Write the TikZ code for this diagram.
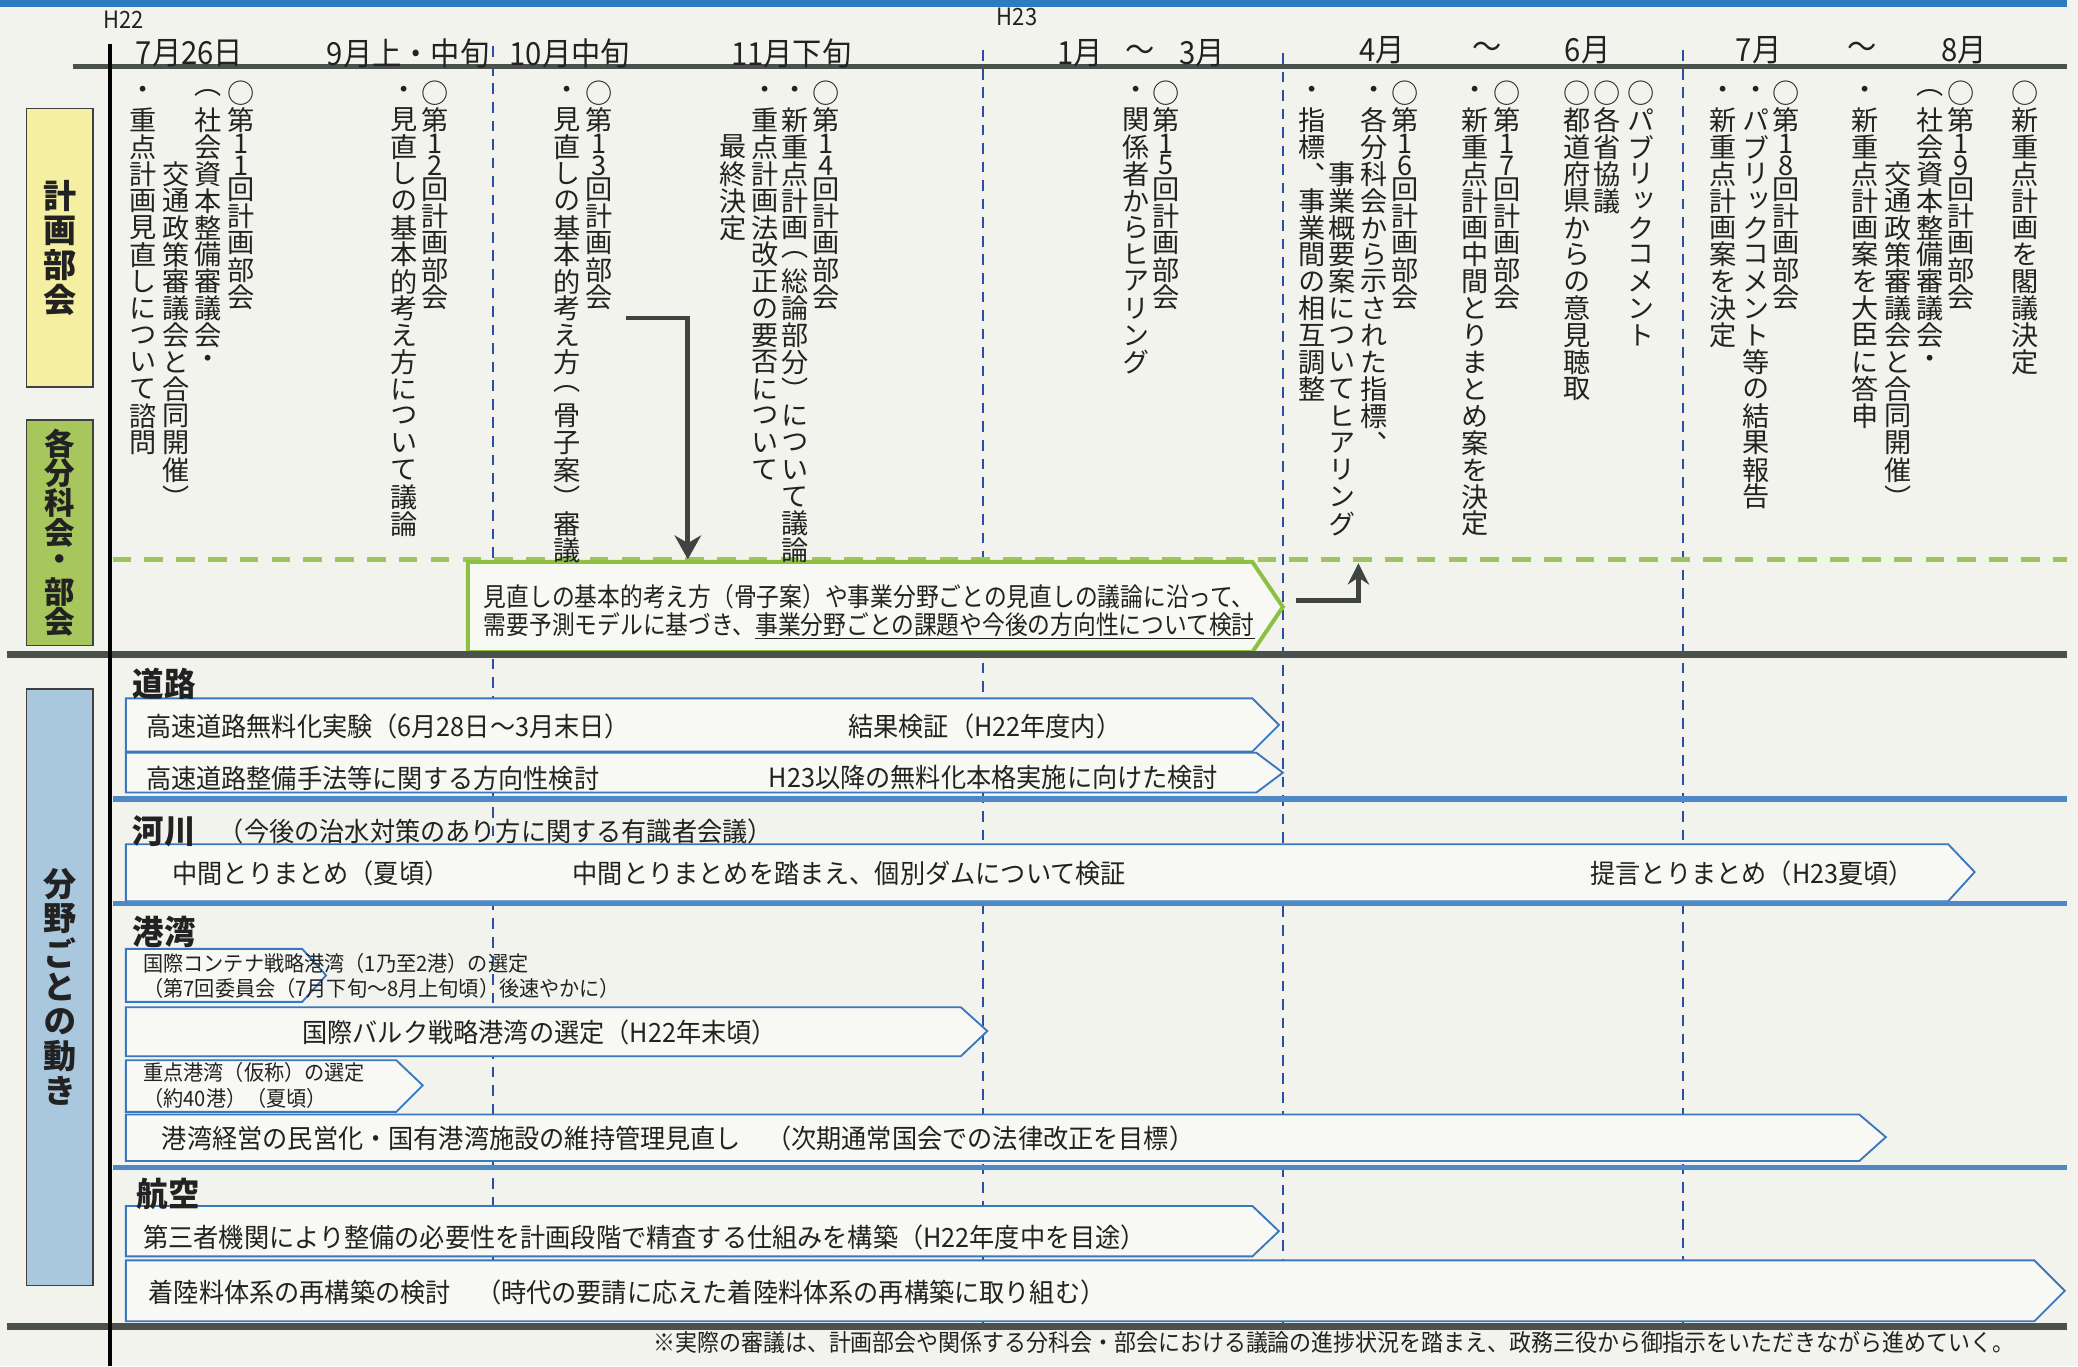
\documentclass[tikz,border=0pt]{standalone}
\usepackage{fontspec}
\usepackage{xcolor}
\usepackage{tikz}
\usetikzlibrary{arrows.meta}
\setmainfont{Noto Sans CJK JP}
\newfontfamily\vjp[RawFeature=+vert]{Noto Sans CJK JP}
\newfontfamily\hjp[FakeStretch=0.95]{Noto Sans CJK JP}
\newfontfamily\gjp[FakeStretch=0.88]{Noto Sans CJK JP}
\newfontfamily\tjp[FakeStretch=0.92]{Noto Sans CJK JP}
\definecolor{bgcol}{HTML}{F3F3EE}
\definecolor{barfill}{HTML}{F8F8F4}
\definecolor{topblue}{HTML}{2E7CC0}
\definecolor{axisgray}{HTML}{4B524D}
\definecolor{dashblue}{HTML}{2B4EA8}
\definecolor{grdash}{HTML}{9CC55E}
\definecolor{grbox}{HTML}{8DC042}
\definecolor{yelbox}{HTML}{F4EFA1}
\definecolor{grlab}{HTML}{A7C65C}
\definecolor{bllab}{HTML}{A9C7DD}
\definecolor{barblue}{HTML}{3978BF}
\definecolor{sepblue}{HTML}{4D89C7}
\definecolor{txtcol}{HTML}{222222}
\definecolor{arrowgray}{HTML}{3F4440}
\newlength\vcell
\newlength\vdig
\setlength\vcell{20pt}
\setlength\vdig{15pt}
% vertical text: one character per cell, digits in smaller cells
\ExplSyntaxOn
\cs_new_protected:Npn \vt_cell:n #1
  {
    \tl_if_in:nnTF { 0123456789 } { #1 }
      { \hbox_to_wd:nn { \vcell } { \hss \vbox_to_ht:nn { \vdig } { \vss \hbox:n { #1 } \vss } \hss } }
      { \hbox_to_wd:nn { \vcell } { \hss \vbox_to_ht:nn { \vcell } { \vss \hbox:n { #1 } \vss } \hss } }
  }
\NewDocumentCommand \vtext { m }
  { \vbox { \offinterlineskip \tl_map_function:nN { #1 } \vt_cell:n } }
\ExplSyntaxOff

\begin{document}
\begin{tikzpicture}[x=1pt,y=-1pt,
  vcol/.style={anchor=north,inner sep=0pt,text=txtcol,font=\vjp\fontsize{20.5}{20.5}\selectfont\setlength\vcell{20.3pt}\setlength\vdig{16pt}},
  sidelab/.style={inner sep=0pt,text=txtcol,font=\vjp\bfseries\fontsize{25}{25}\selectfont\setlength\vcell{26pt}},
  month/.style={inner sep=0pt,text=txtcol,font=\tjp\fontsize{24}{24}\selectfont},
  era/.style={anchor=west,inner sep=0pt,text=txtcol,font=\tjp\fontsize{18}{18}\selectfont},
  sect/.style={anchor=west,inner sep=0pt,text=txtcol,font=\hjp\bfseries\fontsize{25}{25}\selectfont},
  bartxt/.style={anchor=west,inner sep=0pt,text=txtcol,font=\hjp\fontsize{20}{20}\selectfont},
  smalltxt/.style={anchor=west,inner sep=0pt,text=txtcol,font=\hjp\fontsize{16}{16}\selectfont},
  boxtxt/.style={anchor=west,inner sep=0pt,text=txtcol,font=\gjp\fontsize{19.5}{19.5}\selectfont},
  chev/.style={draw=barblue,line width=1.4pt,fill=barfill},
  sepline/.style={draw=sepblue,line width=4pt},
  darkline/.style={draw=axisgray,line width=5pt},
  vdash/.style={draw=dashblue,line width=1.3pt,dash pattern=on 8pt off 6pt},
  labbox/.style={draw=black!75,line width=1.2pt},
  arr/.style={draw=arrowgray,line width=3.5pt}
]
  \useasboundingbox (0,0) rectangle (1568,1031);
  \fill[bgcol] (0,0) rectangle (1568,1031);
  \fill[topblue] (0,0) rectangle (1560,5);

  % month separators
  \draw[vdash] (372,35) -- (372,1000);
  \draw[vdash] (742,38) -- (742,1000);
  \draw[vdash] (968,40) -- (968,1000);
  \draw[vdash] (1270,38) -- (1270,1000);
  \draw[draw=grdash,line width=4pt,dash pattern=on 14pt off 10pt] (85,422) -- (1560,422);

  % left labels
  \draw[labbox,fill=yelbox] (20,82) rectangle (70,292);
  \draw[labbox,fill=grlab] (20,317) rectangle (70,487);
  \draw[labbox,fill=bllab] (20,520) rectangle (70,970);
  \node[sidelab] (lplan) at (45,187) {\vtext{計画部会}};
  \node[sidelab,font=\vjp\bfseries\fontsize{23}{23}\selectfont\setlength\vcell{22.5pt}] (lsub) at (45,402) {\vtext{各分科会・部会}};
  \node[sidelab] (lfield) at (45,745) {\vtext{分野ごとの動き}};

  % green box
  \draw[draw=grbox,line width=3pt,fill=barfill] (353,424) -- (945,424) -- (968,458) -- (945,492) -- (353,492) -- cycle;

  % bars
  \draw[chev] (95,527) -- (945,527) -- (965,547) -- (945,567) -- (95,567) -- cycle;
  \draw[chev] (95,568) -- (948,568) -- (968,583) -- (948,598) -- (95,598) -- cycle;
  \draw[chev] (95,637) -- (1470,637) -- (1490,658) -- (1470,680) -- (95,680) -- cycle;
  \draw[chev] (95,716) -- (228,716) -- (246,736) -- (228,756) -- (95,756) -- cycle;
  \draw[chev] (95,760) -- (725,760) -- (745,778) -- (725,797) -- (95,797) -- cycle;
  \draw[chev] (95,800) -- (299,800) -- (319,819) -- (299,839) -- (95,839) -- cycle;
  \draw[chev] (95,841) -- (1403,841) -- (1423,858) -- (1403,876) -- (95,876) -- cycle;
  \draw[chev] (95,910) -- (945,910) -- (965,929) -- (945,948) -- (95,948) -- cycle;
  \draw[chev] (95,951) -- (1535,951) -- (1558,974) -- (1535,997) -- (95,997) -- cycle;

  % lines
  \draw[sepline] (85,603) -- (1560,603);
  \draw[sepline] (85,682) -- (1560,682);
  \draw[sepline] (85,881) -- (1560,881);
  \draw[darkline] (5,494) -- (1560,494);
  \draw[darkline] (5,1001) -- (1560,1001);
  \draw[draw=axisgray,line width=4pt] (55,50) -- (1560,50);
  \draw[black,line width=2.5pt] (83,33) -- (83,1031);

  % arrows
  \coordinate (dnA) at (472,240);
  \coordinate (dnB) at (519,422);
  \coordinate (upA) at (978,453);
  \coordinate (upB) at (1025,425);
  \draw[arr,-{Stealth[length=18pt,width=20pt]}] (dnA) -| (dnB);
  \draw[arr,-{Stealth[length=16pt,width=16pt]}] (upA) -| (upB);

  % header
  \node[era] (h22) at (78,15) {H22};
  \node[era] (h23) at (752,13) {H23};
  \node[month] (m1) at (143,40) {7月26日};
  \node[month] (m2) at (308,40) {9月上・中旬};
  \node[month] (m3) at (430,40) {10月中旬};
  \node[month] (m4) at (597,40) {11月下旬};
  \node[month] (m5) at (815,40) {1月};
  \node[month] (m5t) at (860,40) {～};
  \node[month] (m6) at (907,40) {3月};
  \node[month] (m7) at (1043,38) {4月};
  \node[month] (m7t) at (1122,38) {～};
  \node[month] (m8) at (1198,38) {6月};
  \node[month] (m9) at (1327,38) {7月};
  \node[month] (m9t) at (1405,38) {～};
  \node[month] (m10) at (1482,38) {8月};

  % meetings
  \node[vcol] (k11a) at (182,60) {\vtext{○第11回計画部会}};
  \node[vcol] (k11b) at (157,60) {\vtext{（社会資本整備審議会・}};
  \node[vcol] (k11c) at (133,60) {\vtext{　　　交通政策審議会と合同開催）}};
  \node[vcol] (k11d) at (108,60) {\vtext{・重点計画見直しについて諮問}};
  \node[vcol] (k12a) at (328,60) {\vtext{○第12回計画部会}};
  \node[vcol] (k12b) at (305,60) {\vtext{・見直しの基本的考え方について議論}};
  \node[vcol] (k13a) at (452,60) {\vtext{○第13回計画部会}};
  \node[vcol] (k13b) at (428,60) {\vtext{・見直しの基本的考え方（骨子案）審議}};
  \node[vcol] (k14a) at (623,60) {\vtext{○第14回計画部会}};
  \node[vcol] (k14b) at (600,60) {\vtext{・新重点計画（総論部分）について議論}};
  \node[vcol] (k14c) at (577,60) {\vtext{・重点計画法改正の要否について}};
  \node[vcol] (k14d) at (553,60) {\vtext{　　最終決定}};
  \node[vcol] (k15a) at (880,60) {\vtext{○第15回計画部会}};
  \node[vcol] (k15b) at (857,60) {\vtext{・関係者からヒアリング}};
  \node[vcol] (k16a) at (1060,60) {\vtext{○第16回計画部会}};
  \node[vcol] (k16b) at (1037,60) {\vtext{・各分科会から示された指標、}};
  \node[vcol] (k16c) at (1013,60) {\vtext{　　　事業概要案についてヒアリング}};
  \node[vcol] (k16d) at (990,60) {\vtext{・指標、事業間の相互調整}};
  \node[vcol] (k17a) at (1137,60) {\vtext{○第17回計画部会}};
  \node[vcol] (k17b) at (1113,60) {\vtext{・新重点計画中間とりまとめ案を決定}};
  \node[vcol] (pref) at (1190,60) {\vtext{○都道府県からの意見聴取}};
  \node[vcol] (mins) at (1213,60) {\vtext{○各省協議}};
  \node[vcol] (pubc) at (1238,60) {\vtext{○パブリックコメント}};
  \node[vcol] (k18a) at (1348,60) {\vtext{○第18回計画部会}};
  \node[vcol] (k18b) at (1325,60) {\vtext{・パブリックコメント等の結果報告}};
  \node[vcol] (k18c) at (1300,60) {\vtext{・新重点計画案を決定}};
  \node[vcol] (k19a) at (1480,60) {\vtext{○第19回計画部会}};
  \node[vcol] (k19b) at (1456,60) {\vtext{（社会資本整備審議会・}};
  \node[vcol] (k19c) at (1432,60) {\vtext{　　　交通政策審議会と合同開催）}};
  \node[vcol] (k19d) at (1407,60) {\vtext{・新重点計画案を大臣に答申}};
  \node[vcol] (cab) at (1528,60) {\vtext{○新重点計画を閣議決定}};

  % green box text
  \node[boxtxt] (gb1) at (365,450) {見直しの基本的考え方（骨子案）や事業分野ごとの見直しの議論に沿って、};
  \node[boxtxt] (gb2) at (365,472) {需要予測モデルに基づき、\underline{事業分野ごとの課題や今後の方向性について検討}};

  % fields
  \node[sect] (road) at (100,516) {道路};
  \node[bartxt] (r1a) at (110,548) {高速道路無料化実験（6月28日～3月末日）};
  \node[bartxt] (r1b) at (640,548) {結果検証（H22年度内）};
  \node[bartxt] (r2a) at (110,587) {高速道路整備手法等に関する方向性検討};
  \node[bartxt] (r2b) at (580,587) {H23以降の無料化本格実施に向けた検討};
  \node[sect] (river) at (100,627) {河川};
  \node[bartxt] (riversub) at (165,627) {（今後の治水対策のあり方に関する有識者会議）};
  \node[bartxt] (k1) at (130,659) {中間とりまとめ（夏頃）};
  \node[bartxt] (k2) at (432,659) {中間とりまとめを踏まえ、個別ダムについて検証};
  \node[bartxt] (k3) at (1200,659) {提言とりまとめ（H23夏頃）};
  \node[sect] (port) at (100,703) {港湾};
  \node[smalltxt] (p1a) at (108,727) {国際コンテナ戦略港湾（1乃至2港）の選定};
  \node[smalltxt] (p1b) at (108,746) {（第7回委員会（7月下旬～8月上旬頃）後速やかに）};
  \node[bartxt] (p2) at (228,779) {国際バルク戦略港湾の選定（H22年末頃）};
  \node[smalltxt] (p3a) at (108,809) {重点港湾（仮称）の選定};
  \node[smalltxt] (p3b) at (108,829) {（約40港）（夏頃）};
  \node[bartxt] (p4) at (122,859) {港湾経営の民営化・国有港湾施設の維持管理見直し　（次期通常国会での法律改正を目標）};
  \node[sect] (air) at (103,901) {航空};
  \node[bartxt] (a1) at (108,934) {第三者機関により整備の必要性を計画段階で精査する仕組みを構築（H22年度中を目途）};
  \node[bartxt] (a2) at (112,975) {着陸料体系の再構築の検討　（時代の要請に応えた着陸料体系の再構築に取り組む）};

  % note
  \node[anchor=east,inner sep=0pt,text=txtcol,font=\tjp\fontsize{18}{18}\selectfont] (note) at (1520,1013)
    {※実際の審議は、計画部会や関係する分科会・部会における議論の進捗状況を踏まえ、政務三役から御指示をいただきながら進めていく。};
\end{tikzpicture}
\end{document}
